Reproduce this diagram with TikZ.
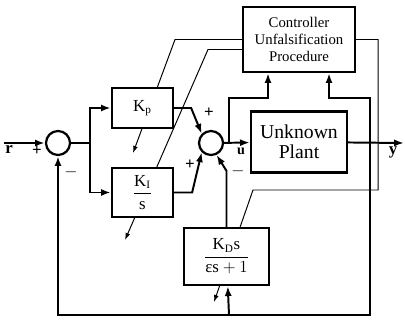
\documentclass[tikz,border=0pt]{standalone}
\usepackage{amsmath}
\usepackage{fontspec}
\setmainfont{Liberation Serif}
\usetikzlibrary{arrows.meta,backgrounds}

\begin{document}
\begin{tikzpicture}[x=0.025cm, y=-0.025cm, line width=1.4pt,
        block/.style={draw, fill=white, line width=1.6pt, inner sep=1pt},
        sum/.style={draw, circle, fill=white, line width=1.6pt, minimum size=0.6cm, inner sep=0pt},
        sig/.style={-{Latex[length=7pt,width=5pt]}},
        adj/.style={line width=0.7pt, -{Latex[length=5pt,width=3.5pt]}},
        sgn/.style={font=\bfseries\large, inner sep=0pt}]
        \useasboundingbox (0,0) rectangle (405,320);

        % blocks
        \node[block, minimum width=2.8cm, minimum height=1.625cm, align=center,
              font=\fontsize{10.5}{12}\selectfont] (cup) at (299,39.5) {Controller\\Unfalsification\\Procedure};
        \node[block, minimum width=1.525cm, minimum height=1cm, font=\large] (kp) at (142.5,108) {$\text{K}_\text{p}$};
        \node[block, minimum width=1.525cm, minimum height=1.225cm, font=\large] (ki) at (142.5,192.5) {$\dfrac{\text{K}_\text{I}}{\text{s}}$};
        \node[block, minimum width=2.125cm, minimum height=1.425cm, font=\large] (kd) at (226.5,256.5) {$\dfrac{\text{K}_\text{D}\text{s}}{\text{εs} + 1}$};
        \node[block, minimum width=2.4cm, minimum height=1.525cm, align=center,
              font=\fontsize{14}{14}\selectfont] (plant) at (299,142) {Unknown\\Plant};
        \node[sum] (s1) at (58,143) {};
        \node[sum] (s2) at (211,143) {};

        % branch points
        \coordinate (rin) at (4,143);
        \coordinate (br) at (90,143);
        \coordinate (ut) at (229,143);
        \coordinate (yt) at (370,143);
        \coordinate (yout) at (404,143);
        \coordinate (ua) at (268,98);
        \coordinate (ya) at (329,98);
        \coordinate (fb) at (370,315);
        \coordinate (fbd) at (229,315);

        % signal paths
        \draw[sig] (rin) -- (s1);
        \draw (s1) -- (br);
        \draw[sig] (br) |- (kp);
        \draw[sig] (br) |- (ki);
        \draw[sig] (kp.east) -- ++(17,0) -- (s2.north west);
        \draw[sig] (ki.east) -- ++(18,0) -- (s2.south west);
        \draw[sig] (kd.north) -- ++(0,-56) -- (s2.-65);
        \draw[sig] (s2) -- (plant);
        \draw[sig] (plant) -- (yout);
        \draw[sig] (ut) |- (ua) -- (ua |- cup.south);
        \draw[sig] (yt) |- (ya) -- (ya |- cup.south);
        \draw[sig] (yt) -- (fb) -| (s1);
        \draw[sig] (fbd) -- (kd);

        % gain adjustment
        \begin{scope}[on background layer]
            \draw[adj] (cup.west) -- (175,39.5) -- (133,153);
            \draw[adj] ([yshift=-0.25cm]cup.west) -- (208,49.5) -- (125,240);
            \draw[adj] (cup.east) -- (378,39.5) -- (378,190) -- (253,190) -- (214,302);
        \end{scope}

        % labels
        \node[sgn] (pr) at (37,151) {+};
        \node[sgn] (mr) at (71,172) {$-$};
        \node[sgn] (pkp) at (209,113) {+};
        \node[sgn] (pki) at (190,165) {+};
        \node[sgn] (mkd) at (238,171) {$-$};
        \node[font=\large\bfseries] (lr) at (9,150) {r};
        \node[font=\bfseries, inner sep=0pt] (lu) at (241,151) {u};
        \node[font=\large\bfseries] (ly) at (393,152) {y};
\end{tikzpicture}
\end{document}
